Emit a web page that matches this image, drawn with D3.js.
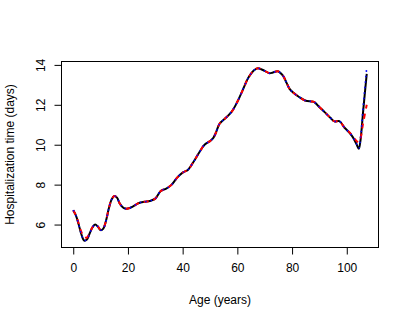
<!DOCTYPE html>
<html>
<head>
<meta charset="utf-8">
<script src="https://cdn.jsdelivr.net/npm/d3@7"></script>
<style>
html,body{margin:0;padding:0;background:#fff;}
svg{display:block;}
text{font-family:"Liberation Sans",Arial,Helvetica,sans-serif;font-size:12px;fill:#000;}
</style>
</head>
<body>
<svg id="chart" width="410" height="324"></svg>
<script>
// Data
const ages = [0,1,2,3,4,5,6,7,8,9,10,11,12,13,14,15,16,17,18,19,20,22,24,26,28,30,32,34,36,38,40,42,44,46,48,50,51,52,53.5,55.4,57.8,60,62,64,66,67.5,70,71.8,73,74.8,76.6,78,79.1,80.5,82.7,85,87,88,89.4,92,94,95.5,97.3,99.2,101,102.2,103.5,104.4,105,106,107.3];
const blackVals = [6.72,6.45,6.0,5.5,5.2,5.25,5.55,5.85,6.0,5.9,5.72,5.8,6.2,6.8,7.25,7.43,7.35,7.05,6.88,6.8,6.8,6.92,7.08,7.14,7.18,7.3,7.68,7.8,8.0,8.35,8.6,8.75,9.15,9.6,10.0,10.18,10.3,10.55,11.05,11.3,11.63,12.15,12.75,13.35,13.72,13.83,13.7,13.58,13.62,13.68,13.47,13.1,12.8,12.6,12.38,12.2,12.17,12.15,11.97,11.62,11.35,11.17,11.18,10.85,10.6,10.38,10.05,9.8,10.2,11.7,13.55];
const redVals = [6.72,6.45,6.05,5.62,5.38,5.35,5.58,5.85,6.0,5.9,5.74,5.82,6.2,6.8,7.25,7.43,7.35,7.05,6.88,6.8,6.8,6.92,7.08,7.14,7.18,7.3,7.68,7.8,8.0,8.35,8.6,8.75,9.15,9.6,10.0,10.18,10.3,10.55,11.05,11.3,11.63,12.15,12.75,13.35,13.72,13.83,13.7,13.58,13.62,13.68,13.47,13.1,12.8,12.6,12.38,12.2,12.17,12.15,11.97,11.62,11.35,11.17,11.18,10.85,10.62,10.42,10.2,10.13,10.3,11.1,12.0];
const blueVals = [6.72,6.45,6.0,5.5,5.2,5.25,5.55,5.85,6.0,5.9,5.72,5.8,6.2,6.8,7.25,7.43,7.35,7.05,6.88,6.8,6.8,6.92,7.08,7.14,7.18,7.3,7.68,7.8,8.0,8.35,8.6,8.75,9.15,9.6,10.0,10.18,10.3,10.55,11.05,11.3,11.63,12.15,12.75,13.35,13.72,13.83,13.7,13.58,13.62,13.68,13.47,13.1,12.8,12.6,12.38,12.2,12.17,12.15,11.97,11.62,11.35,11.17,11.18,10.85,10.6,10.38,10.05,9.82,10.3,11.9,13.88];
const xTicks = [0,20,40,60,80,100];
const yTicks = [6,8,10,12,14];
const xLabel = "Age (years)";
const yLabel = "Hospitalization time (days)";

const svg = d3.select("#chart");
const L = 61.5, R = 378.5, T = 61.5, B = 247.5;

const x = d3.scaleLinear().domain([-4.29, 111.6]).range([L, R]);
const y = d3.scaleLinear().domain([4.85, 14.17]).range([B, T]);

const line = d3.line().x(d => x(d[0])).y(d => y(d[1])).curve(d3.curveCatmullRom.alpha(0.5));
const series = [
  {vals: blackVals, color: "#000", width: 2, dash: null},
  {vals: redVals, color: "#ff0000", width: 2, dash: "5,5"},
  {vals: blueVals, color: "#0000ff", width: 1.6, dash: "1.5,4"}
];
series.forEach(s => {
  svg.append("path")
    .datum(ages.map((a, i) => [a, s.vals[i]]))
    .attr("d", line)
    .attr("fill", "none")
    .attr("stroke", s.color)
    .attr("stroke-width", s.width)
    .attr("stroke-dasharray", s.dash)
    .attr("stroke-linejoin", "round");
});

// box
svg.append("rect").attr("x", L).attr("y", T).attr("width", R - L).attr("height", B - T)
  .attr("fill", "none").attr("stroke", "#000").attr("stroke-width", 1);

// axes
const xAxis = d3.axisBottom(x).tickValues(xTicks).tickSize(7).tickPadding(9).tickFormat(d3.format("d"));
const gx = svg.append("g").attr("transform", `translate(0,${B})`).call(xAxis);
gx.select(".domain").attr("d", `M${x(0)},0H${x(100)}`);
gx.selectAll("text").style("font-size", "12px").attr("fill", "#000");

const yAxis = d3.axisLeft(y).tickValues(yTicks).tickSize(7).tickFormat(d3.format("d"));
const gy = svg.append("g").attr("transform", `translate(${L},0)`).call(yAxis);
gy.select(".domain").attr("d", `M0,${y(6)}V${y(14)}`);
gy.selectAll(".tick text")
  .attr("x", null).attr("dy", null)
  .attr("transform", "translate(-21,0) rotate(-90)")
  .attr("text-anchor", "middle")
  .attr("dominant-baseline", "central")
  .style("font-size", "12px").attr("fill", "#000");

svg.append("text").attr("x", (L + R) / 2).attr("y", 304).attr("text-anchor", "middle").text(xLabel);
svg.append("text").attr("transform", `translate(10,${(T + B) / 2}) rotate(-90)`)
  .attr("text-anchor", "middle").attr("dominant-baseline", "central").text(yLabel);
</script>
</body>
</html>
